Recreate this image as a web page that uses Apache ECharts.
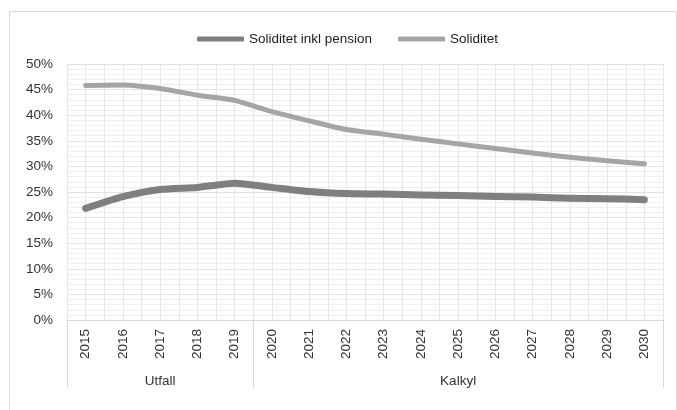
<!DOCTYPE html>
<html>
<head>
<meta charset="utf-8">
<script src="https://cdn.jsdelivr.net/npm/echarts@6/dist/echarts.min.js"></script>
<style>html,body{margin:0;padding:0;background:#fff;}#c{width:677px;height:410px;}</style>
</head>
<body>
<div id="c"></div>
<script>
var years = ['2015','2016','2017','2018','2019','2020','2021','2022','2023','2024','2025','2026','2027','2028','2029','2030'];
var groupNames = ['Utfall', 'Kalkyl'];
var groupBounds = [0, 5, 16];
var groupCenters = [2.5, 10.5];
var solInklPension = [21.8, 24.1, 25.5, 25.9, 26.7, 25.9, 25.1, 24.7, 24.6, 24.4, 24.3, 24.1, 24.0, 23.8, 23.7, 23.5];
var soliditet = [45.8, 45.9, 45.2, 43.9, 42.9, 40.7, 38.9, 37.2, 36.3, 35.3, 34.4, 33.5, 32.6, 31.8, 31.1, 30.5];
var yTicks = [0, 50, 5];

var chart = echarts.init(document.getElementById('c'), null, {renderer: 'canvas'});
var txt = '#333333';
var font = 'Liberation Sans, Arial, sans-serif';
chart.setOption({
  animation: false,
  textStyle: {fontFamily: font},
  graphic: [{
    type: 'rect', left: 7, top: 9, silent: true,
    shape: {width: 667, height: 420},
    style: {fill: 'none', stroke: '#d9d9d9', lineWidth: 1}
  }],
  legend: {
    left: 197, top: 32, padding: 0,
    itemWidth: 47, itemHeight: 5, itemGap: 26,
    icon: 'roundRect',
    textStyle: {color: '#222', fontSize: 13.5, fontFamily: font},
    data: ['Soliditet inkl pension', 'Soliditet']
  },
  grid: {left: 67, right: 14, top: 64, bottom: 90, containLabel: false},
  xAxis: [{
    type: 'category', data: years, position: 'bottom', boundaryGap: true,
    axisLine: {show: true, lineStyle: {color: '#d9d9d9', width: 1}},
    axisTick: {show: false},
    axisLabel: {rotate: 90, margin: 9, color: txt, fontSize: 13.5, fontFamily: font, interval: 0},
    splitLine: {show: false}
  }, {
    type: 'value', min: 0, max: 32, interval: 1, position: 'bottom',
    axisLine: {show: false}, axisTick: {show: false}, axisLabel: {show: false},
    splitLine: {show: true, lineStyle: {color: '#e6e6e6', width: 1}}
  }, {
    type: 'value', min: 0, max: 16, position: 'bottom',
    axisLine: {show: false},
    axisTick: {show: true, customValues: groupBounds, length: 68, lineStyle: {color: '#d9d9d9', width: 1}},
    axisLabel: {
      show: true, customValues: groupCenters, margin: 54, color: txt, fontSize: 13.5, fontFamily: font,
      formatter: function (v) { return v < groupBounds[1] ? groupNames[0] : groupNames[1]; }
    },
    splitLine: {show: false}
  }],
  yAxis: {
    type: 'value', min: yTicks[0], max: yTicks[1], interval: yTicks[2],
    axisLine: {show: false}, axisTick: {show: false},
    axisLabel: {formatter: '{value}%', margin: 14, color: txt, fontSize: 13.5, fontFamily: font},
    splitLine: {show: true, lineStyle: {color: '#e3e3e3', width: 1}},
    minorTick: {show: false, splitNumber: 5},
    minorSplitLine: {show: true, lineStyle: {color: '#efefef', width: 1}}
  },
  series: [{
    name: 'Soliditet inkl pension', type: 'line', xAxisIndex: 0, data: solInklPension,
    smooth: 0.2, symbol: 'none', color: '#7f7f7f',
    lineStyle: {color: '#7f7f7f', width: 7, cap: 'round', join: 'round'}
  }, {
    name: 'Soliditet', type: 'line', xAxisIndex: 0, data: soliditet,
    smooth: 0.2, symbol: 'none', color: '#a5a5a5',
    lineStyle: {color: '#a5a5a5', width: 5, cap: 'round', join: 'round'}
  }]
});
</script>
</body>
</html>
